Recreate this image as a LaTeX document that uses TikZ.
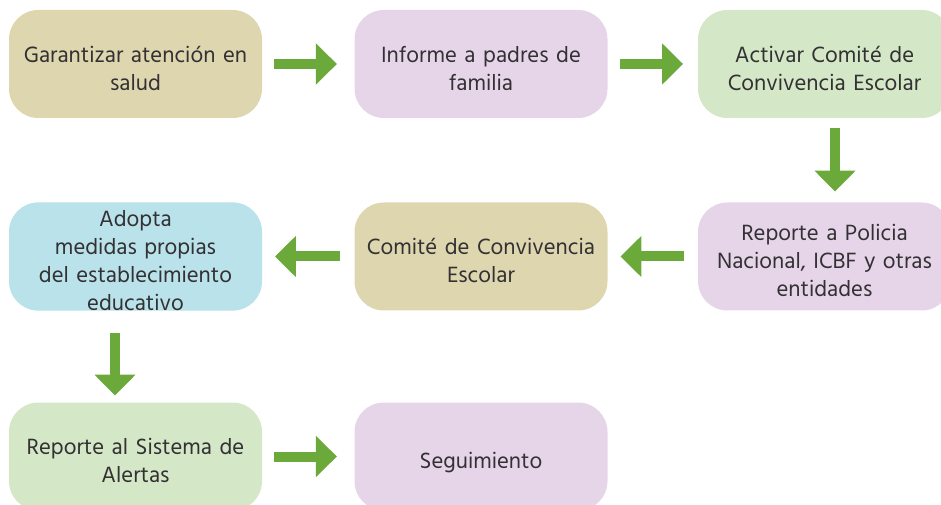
\documentclass[tikz,border=0pt]{standalone}
\usepackage{fontspec}
\setmainfont{Hind Madurai}
\usetikzlibrary{arrows.meta}
\definecolor{tan}{HTML}{DED6AE}
\definecolor{lilac}{HTML}{E6D4E8}
\definecolor{mint}{HTML}{D4E7C7}
\definecolor{sky}{HTML}{B9E2EA}
\definecolor{arrowgreen}{HTML}{6AA93A}
\definecolor{ink}{HTML}{333133}
\tikzset{
  tallbox/.style={rounded corners=22pt, minimum width=189.75pt, minimum height=81pt,
    text width=186pt, align=center, font=\fontsize{17}{21}\selectfont, text=ink, inner sep=0pt},
  stepbox/.style={tallbox, execute at begin node={\rule{0pt}{25pt}}, execute at end node=\strut},
  flow/.style={-{Triangle[length=15.75pt,width=30pt]}, line width=7.5pt, color=arrowgreen}
}
\begin{document}
\begin{tikzpicture}[x=0.75pt,y=-0.75pt]
\useasboundingbox (0,0) rectangle (941,505);

\node[stepbox,fill=tan] (salud) at (135.5,64) {Garantizar atención en\\salud};
\node[stepbox,fill=lilac] (padres) at (481,64) {Informe a padres de\\familia};
\node[stepbox,fill=mint] (activar) at (824.5,64) {Activar Comité de\\Convivencia Escolar};

\node[stepbox,fill=lilac] (policia) at (824.5,256.5) {Reporte a Policia\\Nacional, ICBF y otras\\entidades};
\node[stepbox,fill=tan] (comite) at (481,256.5) {Comité de Convivencia\\Escolar};
\node[tallbox,fill=sky,execute at begin node={\rule{0pt}{18pt}}] (adopta) at (135.5,256.5) {Adopta\\medidas propias\\del establecimiento\\educativo};

\node[stepbox,fill=mint] (alertas) at (135.5,456.5) {Reporte al Sistema de\\Alertas};
\node[stepbox,fill=lilac] (seguimiento) at (481,456.5) {Seguimiento};

\draw[flow,shorten <=9pt,shorten >=13pt] (salud) -- (padres);
\draw[flow,shorten <=9pt,shorten >=11pt] (padres) -- (activar);
\draw[flow,shorten <=7.5pt,shorten >=8pt] (activar.south -| 835,0) -- (policia.north -| 835,0);
\draw[flow,shorten <=10.5pt,shorten >=9.5pt] (policia) -- (comite);
\draw[flow,shorten <=10.5pt,shorten >=9.5pt] (comite) -- (adopta);
\draw[flow,shorten <=16.5pt,shorten >=5pt] (adopta.south -| 115,0) -- (alertas.north -| 115,0);
\draw[flow,shorten <=9pt,shorten >=13pt] (alertas) -- (seguimiento);
\end{tikzpicture}
\end{document}
